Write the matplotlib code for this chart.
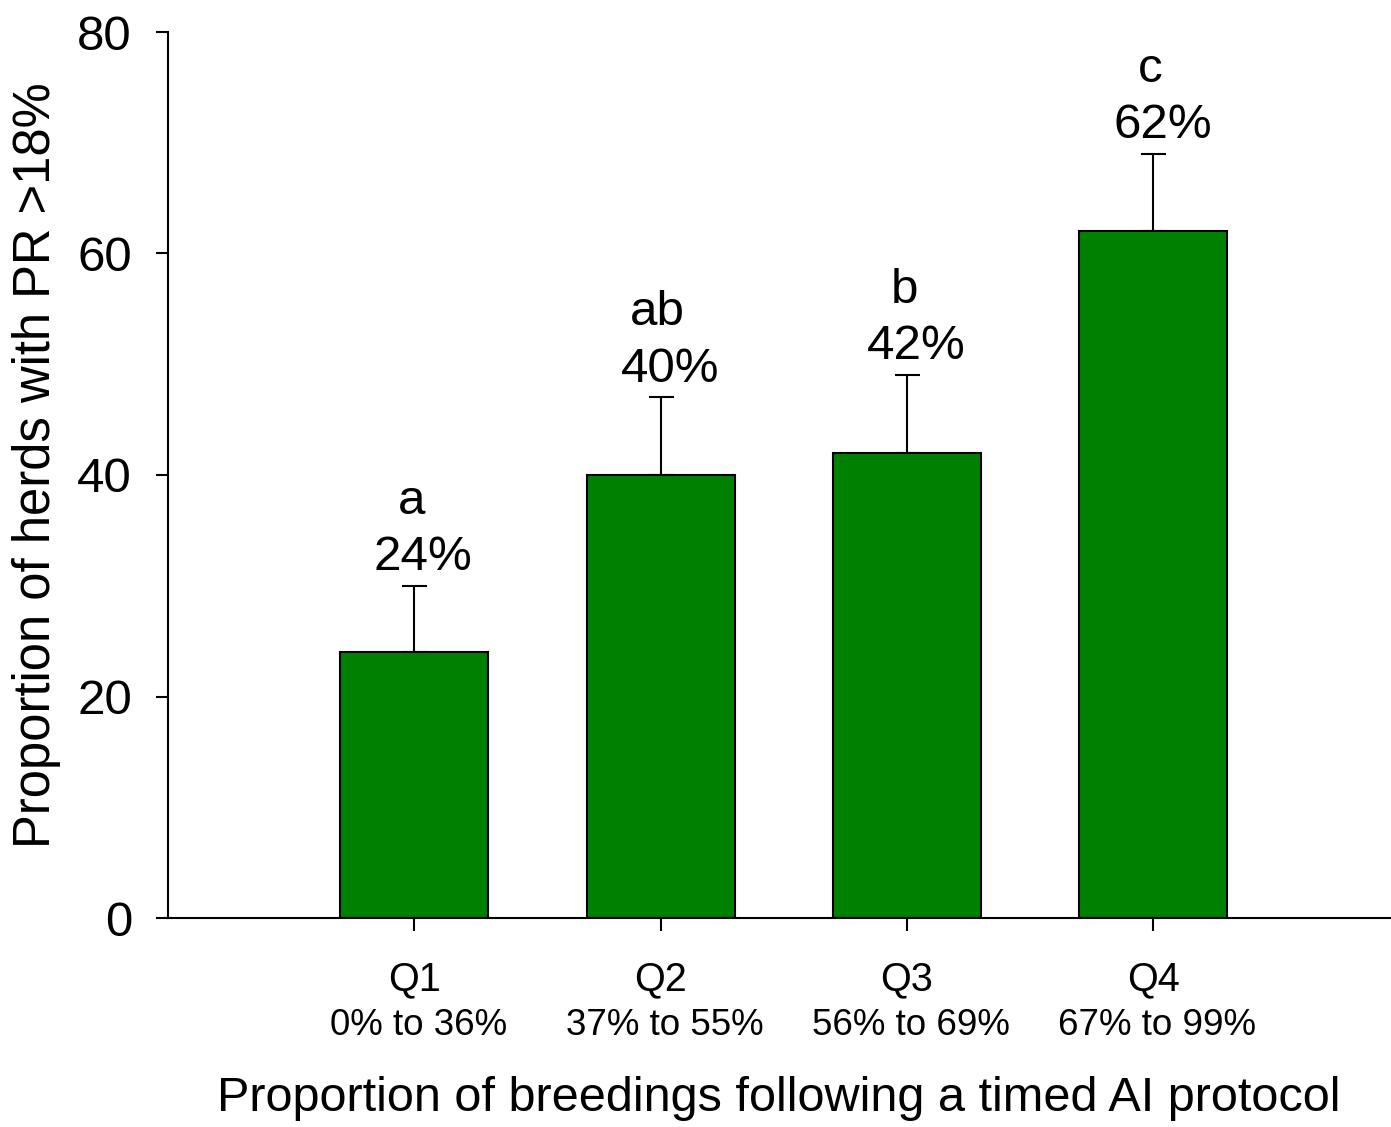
import matplotlib
matplotlib.use("Agg")
import matplotlib.pyplot as plt
from matplotlib.transforms import offset_copy

plt.rcParams['font.family'] = ['Liberation Sans', 'DejaVu Sans']

quarters = ["Q1", "Q2", "Q3", "Q4"]
ranges = ["0% to 36%", "37% to 55%", "56% to 69%", "67% to 99%"]
values = [24, 40, 42, 62]
errors = [6, 7, 7, 7]
letters = ["a", "ab", "b", "c"]
pct_labels = ["24%", "40%", "42%", "62%"]
yticks = [0, 20, 40, 60, 80]

W, H = 1391, 1127
fig = plt.figure(figsize=(W / 100, H / 100), dpi=100)
ax = fig.add_axes([168 / W, 209 / H, (W - 168) / W, (918 - 32) / H])

x = list(range(1, len(quarters) + 1))
ax.bar(x, values, width=0.6, color="#008000", edgecolor="black", linewidth=1.5, zorder=2)
ax.errorbar(x, values, yerr=[[0] * len(errors), errors], fmt="none", ecolor="black",
            elinewidth=1.5, capsize=9, capthick=1.5, zorder=1)

ax.set_xlim(0, 4.965)
ax.set_ylim(0, 80)
ax.set_yticks(yticks)
ax.set_xticks(x)
ax.set_xticklabels([])
ax.tick_params(axis="y", labelsize=35.5, length=8.5, width=1.5, pad=17.5, direction="out")
ax.tick_params(axis="x", length=9.5, width=1.5, direction="out")
for s in ["top", "right"]:
    ax.spines[s].set_visible(False)
for s in ["left", "bottom"]:
    ax.spines[s].set_linewidth(1.5)

for xi, v, e, let, pl in zip(x, values, errors, letters, pct_labels):
    ax.annotate(pl, (xi, v + e), xytext=(6.5, 11.5), textcoords="offset points",
                ha="center", va="baseline", fontsize=35.5)
    ax.annotate(let, (xi, v + e), xytext=(-2, 52), textcoords="offset points",
                ha="center", va="baseline", fontsize=35.5)

trans = ax.get_xaxis_transform()
trans_r = offset_copy(trans, fig=fig, x=3, y=0, units="points")
for xi, q, r in zip(x, quarters, ranges):
    ax.text(xi, (918 - 990) / 886, q, transform=trans, ha="center", va="baseline", fontsize=28.5)
    ax.text(xi, (918 - 1035) / 886, r, transform=trans_r, ha="center", va="baseline", fontsize=26.5)

fig.text(779 / W, 1 - 1111 / H, "Proportion of breedings following a timed AI protocol",
         ha="center", va="baseline", fontsize=35)
fig.text(37 / W, 1 - 465 / H, "Proportion of herds with PR >18%", rotation=90,
         ha="center", va="center", fontsize=36.5)

fig.savefig("out.png", dpi=100)
